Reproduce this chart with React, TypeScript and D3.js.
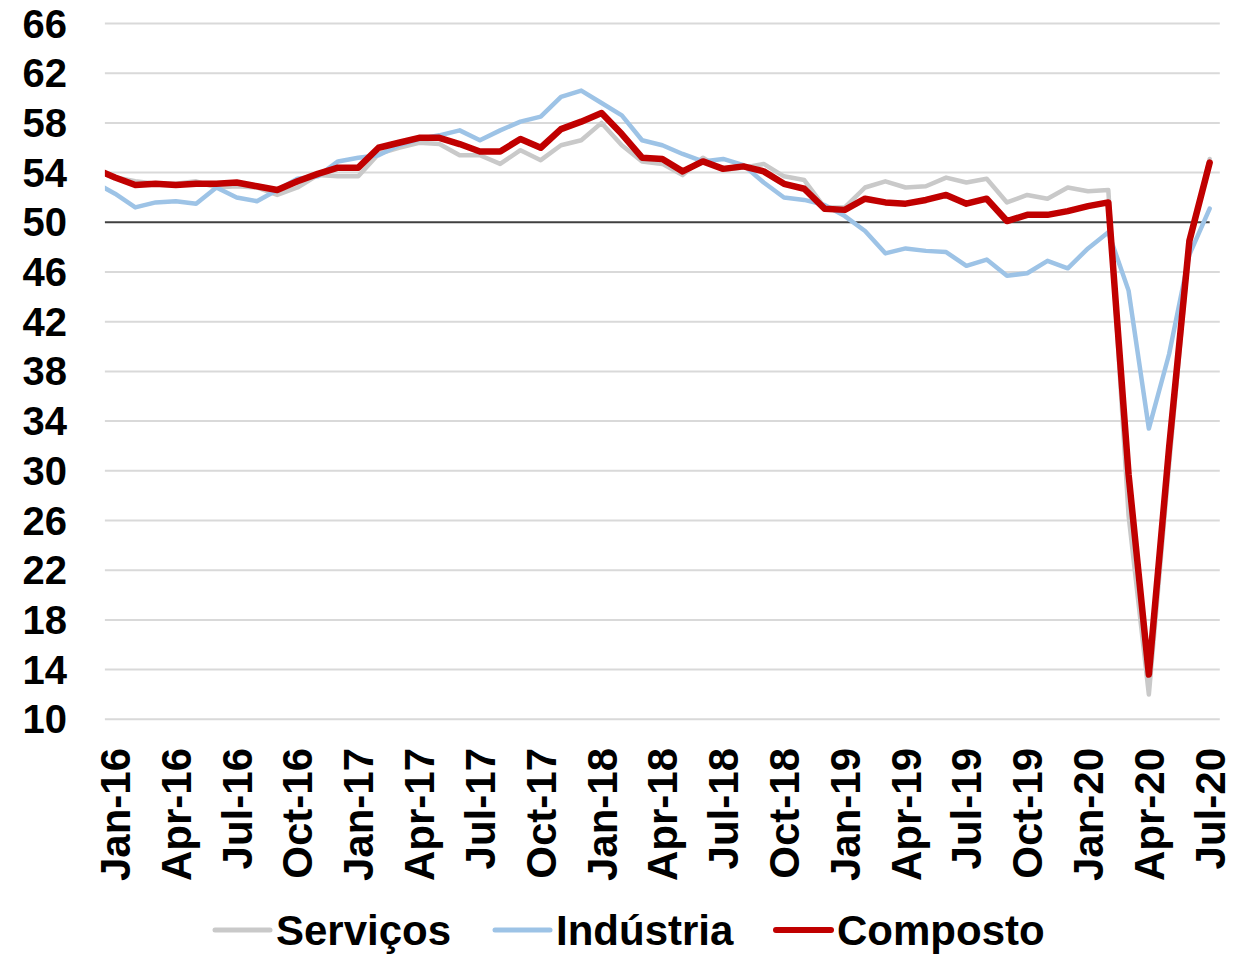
import React from "react";
import * as d3 from "d3";

// Categories: Dec-15 (partly clipped at the left edge) through Jul-20
const months: string[] = [
  "Dec-15",
  "Jan-16","Feb-16","Mar-16","Apr-16","May-16","Jun-16","Jul-16","Aug-16","Sep-16","Oct-16","Nov-16","Dec-16",
  "Jan-17","Feb-17","Mar-17","Apr-17","May-17","Jun-17","Jul-17","Aug-17","Sep-17","Oct-17","Nov-17","Dec-17",
  "Jan-18","Feb-18","Mar-18","Apr-18","May-18","Jun-18","Jul-18","Aug-18","Sep-18","Oct-18","Nov-18","Dec-18",
  "Jan-19","Feb-19","Mar-19","Apr-19","May-19","Jun-19","Jul-19","Aug-19","Sep-19","Oct-19","Nov-19","Dec-19",
  "Jan-20","Feb-20","Mar-20","Apr-20","May-20","Jun-20","Jul-20",
];

const servicos: number[] = [
  54.2,
  53.6, 53.3, 53.1, 53.1, 53.3, 52.8, 52.9, 52.8, 52.2, 52.8, 53.8, 53.7,
  53.7, 55.5, 56.0, 56.4, 56.3, 55.4, 55.4, 54.7, 55.8, 55.0, 56.2, 56.6,
  58.0, 56.2, 54.9, 54.7, 53.8, 55.2, 54.2, 54.4, 54.7, 53.7, 53.4, 51.2,
  51.2, 52.8, 53.3, 52.8, 52.9, 53.6, 53.2, 53.5, 51.6, 52.2, 51.9, 52.8,
  52.5, 52.6, 26.4, 12.0, 30.5, 48.3, 55.1,
];

const industria: number[] = [
  53.2,
  52.3, 51.2, 51.6, 51.7, 51.5, 52.8, 52.0, 51.7, 52.6, 53.5, 53.7, 54.9,
  55.2, 55.4, 56.2, 56.7, 57.0, 57.4, 56.6, 57.4, 58.1, 58.5, 60.1, 60.6,
  59.6, 58.6, 56.6, 56.2, 55.5, 54.9, 55.1, 54.6, 53.2, 52.0, 51.8, 51.4,
  50.5, 49.3, 47.5, 47.9, 47.7, 47.6, 46.5, 47.0, 45.7, 45.9, 46.9, 46.3,
  47.9, 49.2, 44.5, 33.4, 39.4, 47.4, 51.1,
];

const composto: number[] = [
  54.3,
  53.6, 53.0, 53.1, 53.0, 53.1, 53.1, 53.2, 52.9, 52.6, 53.3, 53.9, 54.4,
  54.4, 56.0, 56.4, 56.8, 56.8, 56.3, 55.7, 55.7, 56.7, 56.0, 57.5, 58.1,
  58.8, 57.1, 55.2, 55.1, 54.1, 54.9, 54.3, 54.5, 54.1, 53.1, 52.7, 51.1,
  51.0, 51.9, 51.6, 51.5, 51.8, 52.2, 51.5, 51.9, 50.1, 50.6, 50.6, 50.9,
  51.3, 51.6, 29.7, 13.6, 31.9, 48.5, 54.8,
];

const yTicks: number[] = [10, 14, 18, 22, 26, 30, 34, 38, 42, 46, 50, 54, 58, 62, 66];
const xTickLabels: string[] = [
  "Jan-16","Apr-16","Jul-16","Oct-16","Jan-17","Apr-17","Jul-17","Oct-17","Jan-18",
  "Apr-18","Jul-18","Oct-18","Jan-19","Apr-19","Jul-19","Oct-19","Jan-20","Apr-20","Jul-20",
];
const referenceLevel = 50;

const seriesNames = ["Serviços", "Indústria", "Composto"];
const seriesColors = ["#C9C9C9", "#9DC3E6", "#C00000"];
const seriesWidths = [4.5, 4.5, 6.5];

const FONT = "'Liberation Sans', Arial, sans-serif";

export default function App() {
  const W = 1234;
  const H = 954;
  const left = 104.9;
  const right = 1219.8;
  // index in months array: 0 = Dec-15, 1 = Jan-16 ...
  const x = d3.scaleLinear().domain([0.5, months.length - 0.5]).range([left, right]);
  const y = d3.scaleLinear().domain([10, 66]).range([719.3, 23.5]);

  const allSeries = [servicos, industria, composto];
  const lineGen = d3
    .line<number>()
    .x((_, i) => x(i))
    .y((d) => y(d));

  const legendX = [215, 495, 776];

  return (
    <svg
      width={W}
      height={H}
      style={{ position: "absolute", left: 0, top: 0, background: "#fff" }}
      fontFamily={FONT}
    >
      <defs>
        <clipPath id="plotClip">
          <rect x={left} y={0} width={right - left} height={H} />
        </clipPath>
      </defs>
      <rect x={0} y={0} width={W} height={H} fill="#fff" />
      {yTicks.map((t) =>
        t === referenceLevel ? null : (
          <line key={t} x1={left} x2={right} y1={y(t)} y2={y(t)} stroke="#D9D9D9" strokeWidth={2} />
        )
      )}
      <line
        x1={left}
        x2={x(months.length - 1)}
        y1={y(referenceLevel)}
        y2={y(referenceLevel)}
        stroke="#404040"
        strokeWidth={2}
      />
      {yTicks.map((t) => (
        <text key={t} x={67} y={y(t) + 14} textAnchor="end" fontSize={40} fontWeight="bold" fill="#000">
          {t}
        </text>
      ))}
      {xTickLabels.map((lab) => {
        const i = months.indexOf(lab);
        const cx = Math.min(x(i), 1212) + 15;
        return (
          <text
            key={lab}
            transform={`translate(${cx},748) rotate(-90)`}
            textAnchor="end"
            fontSize={42}
            fontWeight="bold"
            fill="#000"
          >
            {lab}
          </text>
        );
      })}
      <g clipPath="url(#plotClip)">
        {allSeries.map((s, si) => (
          <path
            key={si}
            d={lineGen(s) || ""}
            fill="none"
            stroke={seriesColors[si]}
            strokeWidth={seriesWidths[si]}
            strokeLinejoin="round"
            strokeLinecap="round"
          />
        ))}
      </g>
      {seriesNames.map((n, si) => (
        <g key={n}>
          <line
            x1={legendX[si]}
            x2={legendX[si] + 55}
            y1={930}
            y2={930}
            stroke={seriesColors[si]}
            strokeWidth={si === 2 ? 6 : 5}
            strokeLinecap="round"
          />
          <text x={legendX[si] + 61} y={945} fontSize={42} fontWeight="bold" fill="#000">
            {n}
          </text>
        </g>
      ))}
    </svg>
  );
}
